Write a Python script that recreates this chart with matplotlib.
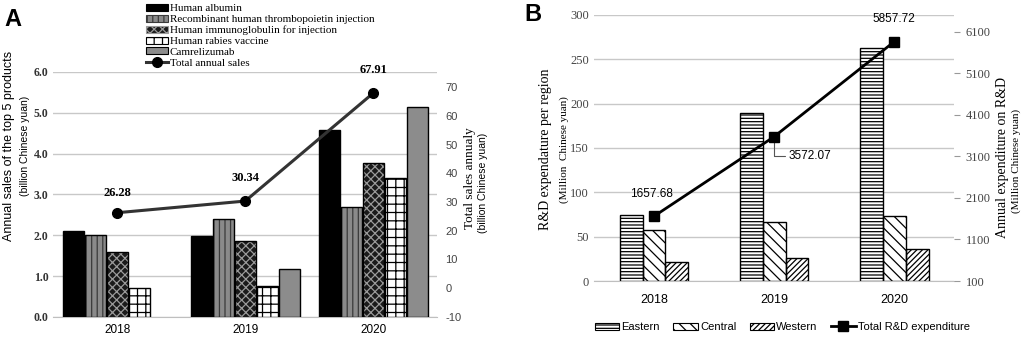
import matplotlib
matplotlib.use("Agg")
from matplotlib import pyplot as plt
from matplotlib.patches import Patch
import numpy as np

# ---- data, panel A ----
years = ["2018", "2019", "2020"]
products = ["Human albumin",
            "Recombinant human thrombopoietin injection",
            "Human immunoglobulin for injection",
            "Human rabies vaccine",
            "Camrelizumab"]
albumin = [2.10, 1.97, 4.57]
thrombopoietin = [2.00, 2.40, 2.70]
immunoglobulin = [1.58, 1.87, 3.77]
rabies = [0.70, 0.76, 3.39]
camrelizumab = [0.0, 1.18, 5.15]
total_sales = [26.28, 30.34, 67.91]

# ---- data, panel B ----
regions = ["Eastern", "Central", "Western"]
eastern = [75, 189, 263]
central = [57, 66, 73]
western = [21, 26, 36]
total_rd = [1657.68, 3572.07, 5857.72]

plt.rcParams['hatch.linewidth'] = 0.9
serif = ['Liberation Serif', 'DejaVu Serif']
narrow = ['Liberation Sans Narrow', 'Liberation Sans', 'DejaVu Sans']
sans = ['Liberation Sans', 'DejaVu Sans']

fig = plt.figure(figsize=(10.24, 3.39), dpi=100)

# bar styles: (facecolor, hatch, hatch colour)
styleA = [("#000000", None, None),
          ("#8a8a8a", "|||", "#3a3a3a"),
          ("#1a1a1a", "xxxx", "#9a9a9a"),
          ("#ffffff", "++", "#000000"),
          ("#8c8c8c", None, None)]
styleB = [("#ffffff", "-----", "#000000"),
          ("#ffffff", "\\\\\\", "#000000"),
          ("#ffffff", "//////", "#000000")]


def style_axes(ax):
    for s in ["left", "right", "top"]:
        ax.spines[s].set_visible(False)
    ax.spines["bottom"].set_color("#bfbfbf")
    ax.yaxis.grid(True, color="#c8c8c8", linewidth=1.0, zorder=0)
    ax.set_axisbelow(True)
    ax.tick_params(axis="y", length=0)
    ax.tick_params(axis="x", length=0)


# ================= Panel A =================
axA = fig.add_axes([0.052, 0.065, 0.375, 0.723])
x = np.arange(len(years))
seriesA = [albumin, thrombopoietin, immunoglobulin, rabies, camrelizumab]
w = 0.166
handlesA = []
for i, vals in enumerate(seriesA):
    face, hatch, hcol = styleA[i]
    vals = np.array(vals, dtype=float)
    keep = vals > 0
    pos = (x + (i - 2) * 0.172)[keep]
    vals = vals[keep]
    if hatch:
        axA.bar(pos, vals, w, color=face, hatch=hatch, edgecolor=hcol, linewidth=0, zorder=2)
    axA.bar(pos, vals, w, color=face if not hatch else "none", edgecolor="black",
            linewidth=1.0, zorder=3)
    handlesA.append(Patch(facecolor=face, hatch=hatch, edgecolor=hcol if hatch else "black",
                          linewidth=0.8, label=products[i]))
axA.set_xlim(-0.5, 2.5)
axA.set_ylim(0, 6.0)
axA.set_yticks(np.arange(0, 6.01, 1.0))
axA.set_yticklabels(["%.1f" % v for v in np.arange(0, 6.01, 1.0)],
                    family=serif, fontsize=8.5, fontweight="bold", color="#333333")
axA.set_xticks(x)
axA.set_xticklabels(years, family=sans, fontsize=8.5)
style_axes(axA)
axA.tick_params(axis="x", pad=5)

axA2 = axA.twinx()
lineA, = axA2.plot(x, total_sales, color="#333333", linewidth=2.2, marker="o",
                   markersize=7, markerfacecolor="black", markeredgecolor="black", zorder=5,
                   label="Total annual sales")
axA2.set_ylim(-10, 75.3)
axA2.set_yticks(np.arange(-10, 71, 10))
axA2.set_yticklabels([str(v) for v in range(-10, 71, 10)], family=sans, fontsize=8,
                     color="#444444")
for s in ["left", "right", "top", "bottom"]:
    axA2.spines[s].set_visible(False)
axA2.tick_params(axis="y", length=0, pad=6)
offsA = [(0, 10), (0, 12), (0, 12)]
for xi, v, off in zip(x, total_sales, offsA):
    axA2.annotate("%.2f" % v, (xi, v), xytext=off, textcoords="offset points",
                  ha="center", va="bottom", family=serif, fontsize=9, fontweight="bold")

fig.legend(handles=handlesA + [lineA], loc="upper left", bbox_to_anchor=(0.136, 1.008),
           frameon=False, prop={"family": serif, "size": 8}, labelspacing=0.12,
           handlelength=2.0, handleheight=0.6, handletextpad=0.15, borderaxespad=0.2)

fig.text(0.009, 0.57, "Annual sales of the top 5 products", rotation=90, ha="center",
         va="center", family=sans, fontsize=9)
fig.text(0.024, 0.57, "(billion Chinese yuan)", rotation=90, ha="center", va="center",
         family=sans, fontsize=7.5)
fig.text(0.459, 0.475, "Total sales annualy", rotation=90, ha="center", va="center",
         family=serif, fontsize=9.5)
fig.text(0.472, 0.46, "(billion Chinese yuan)", rotation=90, ha="center", va="center",
         family=sans, fontsize=7.5)
fig.text(0.004, 0.975, "A", ha="left", va="top", family=sans, fontsize=17, fontweight="bold")

# ================= Panel B =================
axB = fig.add_axes([0.580, 0.171, 0.352, 0.785])
seriesB = [eastern, central, western]
wb = 0.19
handlesB = []
for i, vals in enumerate(seriesB):
    face, hatch, hcol = styleB[i]
    pos = x + (i - 1) * wb
    axB.bar(pos, vals, wb, color=face, hatch=hatch, edgecolor=hcol, linewidth=0, zorder=2)
    axB.bar(pos, vals, wb, fill=False, edgecolor="black", linewidth=1.0, zorder=3)
    handlesB.append(Patch(facecolor=face, hatch=hatch, edgecolor="black", linewidth=0.8,
                          label=regions[i]))
axB.set_xlim(-0.5, 2.5)
axB.set_ylim(0, 300)
axB.set_yticks(np.arange(0, 301, 50))
axB.set_yticklabels([str(v) for v in range(0, 301, 50)], family=serif, fontsize=9,
                    color="#444444")
axB.set_xticks(x)
axB.set_xticklabels(years, family=narrow, fontsize=9)
style_axes(axB)
axB.tick_params(axis="x", pad=9)

axB2 = axB.twinx()
lineB, = axB2.plot(x, total_rd, color="black", linewidth=2.0, marker="s", markersize=7,
                   zorder=5, label="Total R&D expenditure")
axB2.set_ylim(100, 6500)
axB2.set_yticks(np.arange(100, 6101, 1000))
axB2.set_yticklabels([str(v) for v in range(100, 6101, 1000)], family=serif, fontsize=9,
                     color="#444444")
for s in ["left", "right", "top", "bottom"]:
    axB2.spines[s].set_visible(False)
axB2.tick_params(axis="y", length=4, color="#999999", pad=4)

axB2.annotate("1657.68", (x[0], total_rd[0]), xytext=(-2, 12), textcoords="offset points",
              ha="center", va="bottom", family=narrow, fontsize=8.5)
axB2.annotate("3572.07", (x[1], total_rd[1]), xytext=(10, -14), textcoords="offset points",
              ha="left", va="center", family=narrow, fontsize=8.5,
              arrowprops=dict(arrowstyle="-", color="#555555", linewidth=0.8,
                              connectionstyle="angle,angleA=0,angleB=90,rad=0",
                              shrinkA=0, shrinkB=4))
axB2.annotate("5857.72", (x[2], total_rd[2]), xytext=(0, 12), textcoords="offset points",
              ha="center", va="bottom", family=narrow, fontsize=8.5)

fig.legend(handles=handlesB + [lineB], loc="center", bbox_to_anchor=(0.764, 0.035),
           ncol=4, frameon=False, prop={"family": narrow, "size": 8},
           handlelength=2.2, handleheight=0.6, handletextpad=0.2, columnspacing=1.2)

fig.text(0.533, 0.56, "R&D expendature per region", rotation=90, ha="center",
         va="center", family=serif, fontsize=10)
fig.text(0.551, 0.56, "(Million  Chinese yuan)", rotation=90, ha="center", va="center",
         family=serif, fontsize=8)
fig.text(0.979, 0.535, "Annual expenditure on R&D", rotation=90, ha="center",
         va="center", family=serif, fontsize=10)
fig.text(0.992, 0.525, "(Million Chinese yuan)", rotation=90, ha="center", va="center",
         family=serif, fontsize=8)
fig.text(0.512, 0.99, "B", ha="left", va="top", family=sans, fontsize=17, fontweight="bold")

fig.savefig("out.png", dpi=100)
